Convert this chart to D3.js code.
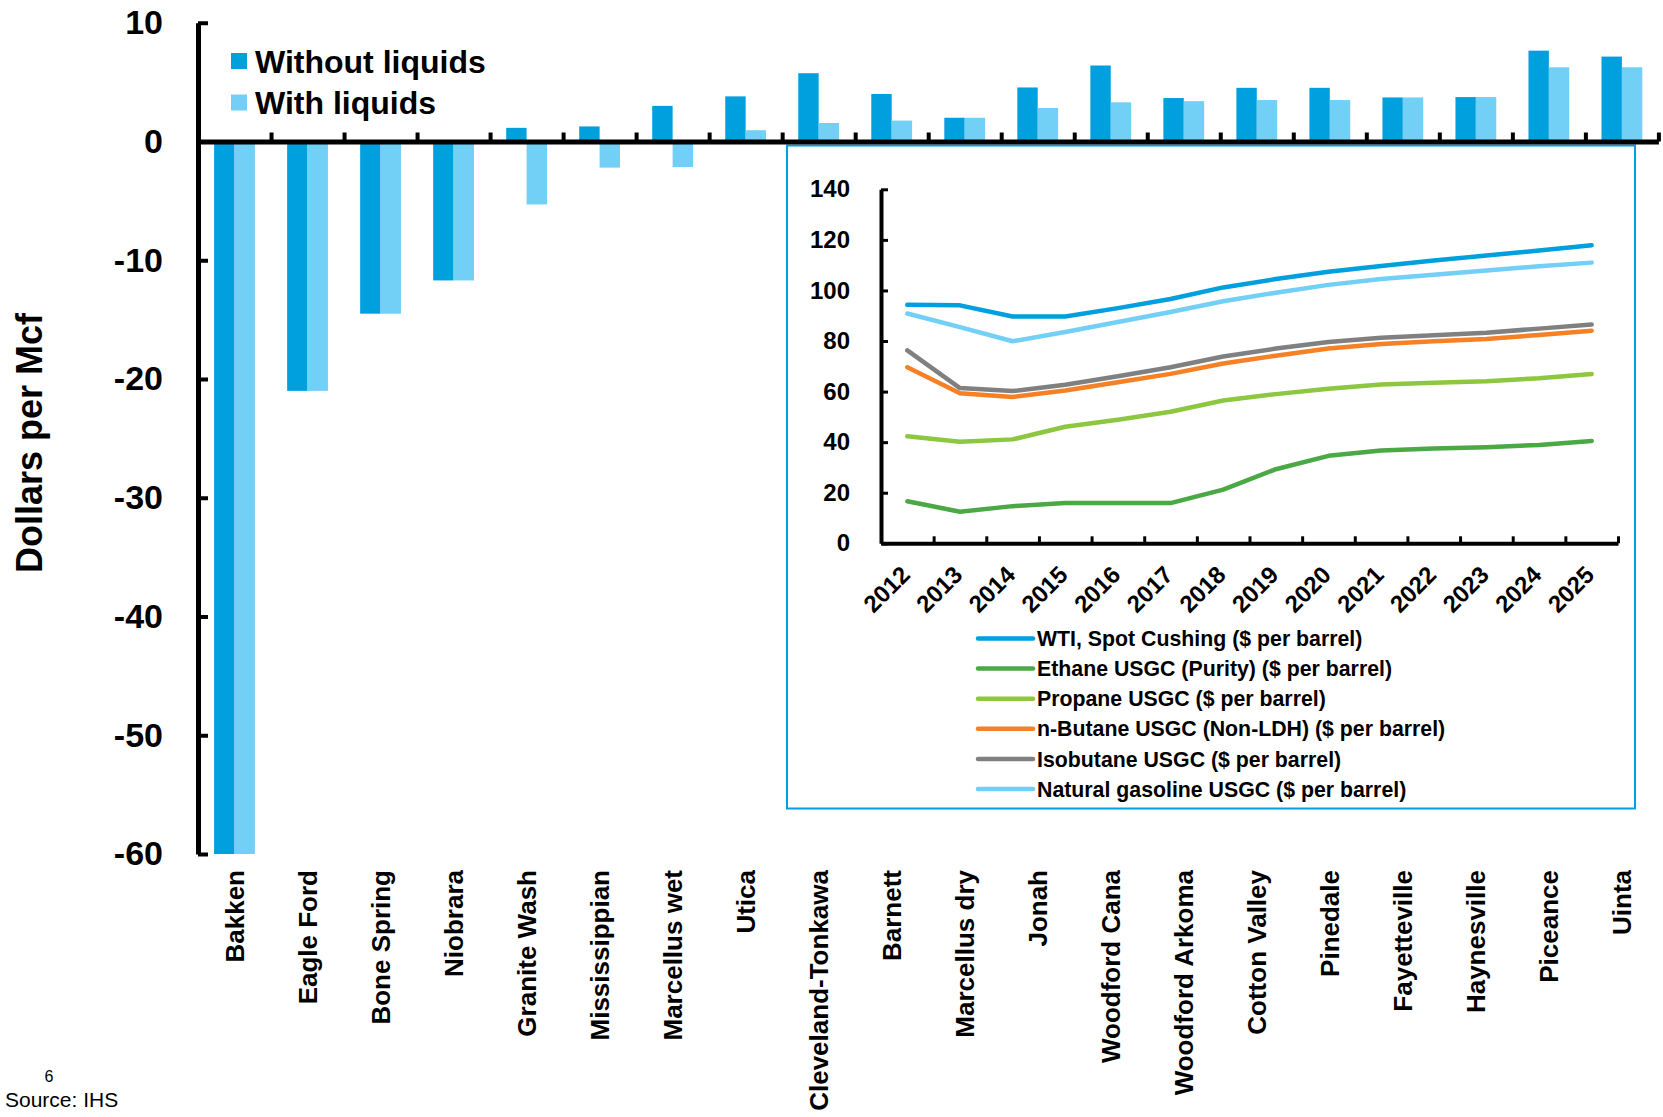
<!DOCTYPE html>
<html>
<head>
<meta charset="utf-8">
<script src="https://cdn.jsdelivr.net/npm/d3@7"></script>
<style>
  html, body { margin: 0; padding: 0; background: #fff; }
  svg { display: block; font-family: "Liberation Sans", Arial, Helvetica, sans-serif; }
</style>
</head>
<body>
<svg id="chart" width="1663" height="1117"></svg>
<script>
// ---------- DATA ----------
const categories = ["Bakken","Eagle Ford","Bone Spring","Niobrara","Granite Wash","Mississippian","Marcellus wet","Utica","Cleveland-Tonkawa","Barnett","Marcellus dry","Jonah","Woodford Cana","Woodford Arkoma","Cotton Valley","Pinedale","Fayetteville","Haynesville","Piceance","Uinta"];
const withoutLiquids = [-60, -21.0, -14.5, -11.7, 1.15, 1.27, 3.0, 3.8, 5.75, 4.0, 2.0, 4.55, 6.4, 3.66, 4.52, 4.52, 3.71, 3.74, 7.65, 7.15];
const withLiquids    = [-60, -21.0, -14.5, -11.7, -5.3, -2.2, -2.15, 0.95, 1.56, 1.76, 2.0, 2.82, 3.3, 3.4, 3.49, 3.49, 3.71, 3.74, 6.25, 6.25];
const barSeries = ["Without liquids", "With liquids"];
const mainTicks = [10, 0, -10, -20, -30, -40, -50, -60];

const years = ["2012","2013","2014","2015","2016","2017","2018","2019","2020","2021","2022","2023","2024","2025"];
const wti        = [94.3, 94.1, 89.7, 89.7, 93.0, 96.6, 101.2, 104.5, 107.4, 109.7, 111.8, 113.8, 115.8, 117.9];
const ethane     = [16.6, 12.5, 14.7, 15.9, 15.9, 15.9, 21.2, 29.3, 34.6, 36.7, 37.5, 38.0, 38.9, 40.5];
const propane    = [42.3, 40.2, 41.1, 46.1, 48.9, 52.0, 56.5, 59.0, 61.1, 62.8, 63.5, 64.1, 65.3, 67.0];
const nButane    = [69.6, 59.3, 57.9, 60.4, 63.7, 67.0, 71.1, 74.2, 77.0, 78.8, 79.9, 80.8, 82.4, 84.1];
const isobutane  = [76.3, 61.4, 60.2, 62.7, 66.1, 69.6, 73.9, 77.0, 79.6, 81.3, 82.3, 83.3, 84.9, 86.5];
const natGasoline= [90.9, 85.5, 79.9, 83.6, 87.5, 91.5, 95.7, 99.1, 102.2, 104.5, 106.2, 107.9, 109.6, 111.0];
const lineNames = ["WTI, Spot Cushing ($ per barrel)","Ethane USGC (Purity) ($ per barrel)","Propane USGC ($ per barrel)","n-Butane USGC (Non-LDH) ($ per barrel)","Isobutane USGC ($ per barrel)","Natural gasoline USGC ($ per barrel)"];
const insetTicks = [0, 20, 40, 60, 80, 100, 120, 140];

// ---------- STYLE ----------
const barColors = ["#009FDE", "#72CFF5"];
const lineColors = ["#009FDE", "#4AA845", "#8DC63F", "#F58025", "#808080", "#72CFF5"];
const lineData = [wti, ethane, propane, nButane, isobutane, natGasoline];
const FONT = "'Liberation Sans', Arial, sans-serif";

const svg = d3.select("#chart");

// ---------- MAIN CHART ----------
const xLeft = 198, xRight = 1658.4, yTop = 22.75, yBottom = 854;
const x0 = d3.scaleBand().domain(categories).range([xLeft, xRight]).padding(0);
const x1 = d3.scaleBand().domain(barSeries).range([0, x0.bandwidth()]).paddingInner(0).paddingOuter(0.79);
const y = d3.scaleLinear().domain([-60, 10]).range([yBottom, yTop]);

const barsG = svg.append("g");
const seriesVals = [withoutLiquids, withLiquids];
barSeries.forEach((s, si) => {
  barsG.append("g").selectAll("rect")
    .data(categories)
    .join("rect")
    .attr("x", (c) => x0(c) + x1(s))
    .attr("width", x1.bandwidth())
    .attr("y", (c, i) => y(Math.max(0, seriesVals[si][i])))
    .attr("height", (c, i) => Math.abs(y(seriesVals[si][i]) - y(0)))
    .attr("fill", barColors[si]);
});

// inset frame
const box = {x: 787, y: 145.5, w: 848, h: 663};
svg.append("rect")
  .attr("x", box.x).attr("y", box.y).attr("width", box.w).attr("height", box.h)
  .attr("fill", "#fff").attr("stroke", "#009FDE").attr("stroke-width", 2);

// y axis
const yAxis = d3.axisLeft(y).tickValues(mainTicks).tickSize(-10).tickSizeOuter(0).tickPadding(35).tickFormat((d) => String(d));
const yAxG = svg.append("g").attr("transform", `translate(${xLeft},0)`).call(yAxis);
yAxG.select(".domain").attr("stroke", "#000").attr("stroke-width", 5);
yAxG.selectAll(".tick line").attr("stroke", "#000").attr("stroke-width", 4);
yAxG.selectAll(".tick text").attr("font-size", 34).attr("font-weight", "bold").attr("fill", "#000")
  .attr("font-family", FONT);

// zero line with boundary ticks
const xb = d3.scaleLinear().domain([0, categories.length]).range([xLeft, xRight]);
const zeroAxis = d3.axisTop(xb).tickValues(d3.range(1, categories.length + 1)).tickSize(9).tickSizeOuter(0).tickFormat("");
const zG = svg.append("g").attr("transform", `translate(0,${y(0)})`).call(zeroAxis);
zG.select(".domain").attr("stroke", "#000").attr("stroke-width", 5);
zG.selectAll(".tick line").attr("stroke", "#000").attr("stroke-width", 4);

// category labels
const catAxis = d3.axisBottom(x0).tickSize(0);
const cG = svg.append("g").attr("transform", `translate(0,${yBottom})`).call(catAxis);
cG.select(".domain").remove();
cG.selectAll(".tick text")
  .attr("transform", "rotate(-90)")
  .attr("x", -16).attr("y", 0).attr("dy", "0.36em")
  .attr("text-anchor", "end")
  .attr("font-size", 26).attr("font-weight", "bold").attr("fill", "#000")
  .attr("font-family", FONT);

// y title
svg.append("text")
  .attr("transform", "translate(42,443) rotate(-90)")
  .attr("text-anchor", "middle")
  .attr("font-size", 36).attr("font-weight", "bold")
  .text("Dollars per Mcf");

// main legend
const leg = svg.append("g");
barSeries.forEach((s, i) => {
  const cy = 61 + i * 41.5;
  leg.append("rect").attr("x", 231).attr("y", cy - 8).attr("width", 16).attr("height", 16).attr("fill", barColors[i]);
  leg.append("text").attr("x", 255).attr("y", cy).attr("dy", "0.36em")
    .attr("font-size", 32).attr("font-weight", "bold").text(s);
});

// ---------- INSET ----------
const ixL = 881, ixR = 1618, iyTop = 189.3, iyBot = 543.3;
const ix = d3.scaleBand().domain(years).range([ixL, ixR]).padding(0);
const iy = d3.scaleLinear().domain([0, 140]).range([iyBot, iyTop]);
const cx = (yr) => ix(yr) + ix.bandwidth() / 2;

const iG = svg.append("g");
const line = d3.line().x((d, i) => cx(years[i])).y((d) => iy(d));
lineData.forEach((arr, k) => {
  iG.append("path").datum(arr).attr("d", line)
    .attr("fill", "none").attr("stroke", lineColors[k]).attr("stroke-width", 4.5)
    .attr("stroke-linejoin", "round").attr("stroke-linecap", "round");
});

const iyAxis = d3.axisLeft(iy).tickValues(insetTicks).tickSize(-7).tickSizeOuter(0).tickPadding(31);
const iyG = svg.append("g").attr("transform", `translate(${ixL},0)`).call(iyAxis);
iyG.select(".domain").attr("stroke", "#000").attr("stroke-width", 4);
iyG.selectAll(".tick line").attr("stroke", "#000").attr("stroke-width", 3);
iyG.selectAll(".tick text").attr("font-size", 24).attr("font-weight", "bold").attr("fill", "#000")
  .attr("font-family", FONT);

const ixb = d3.scaleLinear().domain([0, years.length]).range([ixL, ixR]);
const ixAxis = d3.axisTop(ixb).tickValues(d3.range(1, years.length + 1)).tickSize(7).tickSizeOuter(0).tickFormat("");
const ixG = svg.append("g").attr("transform", `translate(0,${iyBot})`).call(ixAxis);
ixG.select(".domain").attr("stroke", "#000").attr("stroke-width", 4);
ixG.selectAll(".tick line").attr("stroke", "#000").attr("stroke-width", 3);

const yrAxis = d3.axisBottom(ix).tickSize(0);
const yrG = svg.append("g").attr("transform", `translate(0,${iyBot})`).call(yrAxis);
yrG.select(".domain").remove();
yrG.selectAll(".tick text")
  .attr("transform", "translate(4,33) rotate(-45)")
  .attr("x", 0).attr("y", 0).attr("dy", 0)
  .attr("text-anchor", "end")
  .attr("font-size", 24).attr("font-weight", "bold").attr("fill", "#000")
  .attr("font-family", FONT);

// inset legend
const il = svg.append("g");
lineNames.forEach((n, k) => {
  const ly = 638.5 + k * 30.1;
  il.append("line").attr("x1", 978).attr("x2", 1033).attr("y1", ly).attr("y2", ly)
    .attr("stroke", lineColors[k]).attr("stroke-width", 4.5).attr("stroke-linecap", "round");
  il.append("text").attr("x", 1037).attr("y", ly).attr("dy", "0.36em")
    .attr("font-size", 21.3).attr("font-weight", "bold").text(n);
});

// footer
svg.append("text").attr("x", 49).attr("y", 1082).attr("text-anchor", "middle").attr("font-size", 16).text("6");
svg.append("text").attr("x", 5).attr("y", 1107).attr("font-size", 21).text("Source: IHS");
</script>
</body>
</html>
